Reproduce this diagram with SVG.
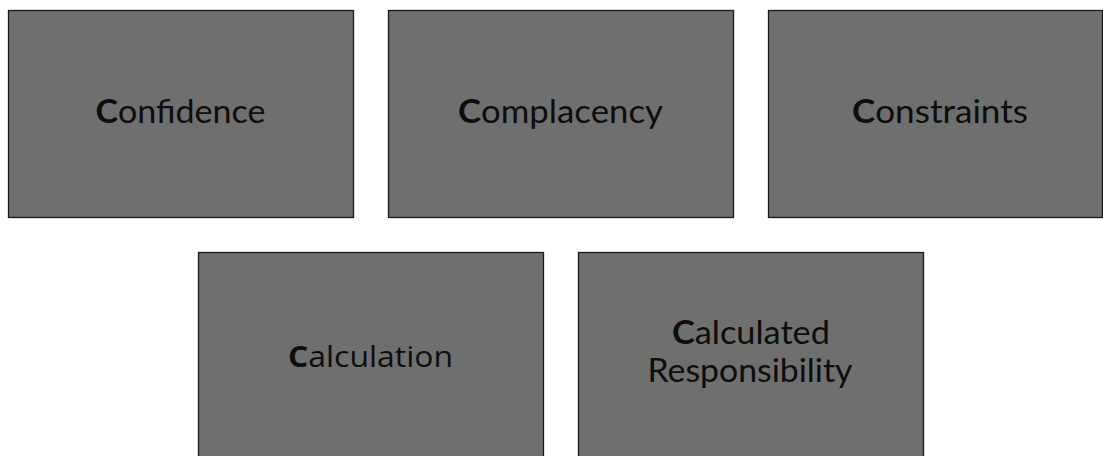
<svg xmlns="http://www.w3.org/2000/svg" width="1103" height="456" viewBox="0 0 1103 456">
  <style>
    .box { fill: #6f6f6f; stroke: #1a1a1a; stroke-width: 1.3; }
    .lbl { font-family: Lato, "Open Sans", sans-serif; font-size: 32px; fill: #0d0d0d; text-anchor: middle; }
    .cal { font-family: "Open Sans", "Noto Sans", sans-serif; font-size: 29px; fill: #0d0d0d; text-anchor: middle; }
    .init { font-weight: bold; }
  </style>
  <rect width="1103" height="456" fill="#ffffff"/>

  <g id="confidence">
    <rect class="box" x="8.5" y="10.5" width="345" height="207"/>
    <text class="lbl" x="180.5" y="123" textLength="170" lengthAdjust="spacingAndGlyphs"><tspan class="init">C</tspan>onfidence</text>
  </g>

  <g id="complacency">
    <rect class="box" x="388.5" y="10.5" width="345" height="207"/>
    <text class="lbl" x="560.5" y="123" textLength="205" lengthAdjust="spacingAndGlyphs"><tspan class="init">C</tspan>omplacency</text>
  </g>

  <g id="constraints">
    <rect class="box" x="768.5" y="10.5" width="334" height="207"/>
    <text class="lbl" x="940" y="123" textLength="176" lengthAdjust="spacingAndGlyphs"><tspan class="init">C</tspan>onstraints</text>
  </g>

  <g id="calculation">
    <rect class="box" x="198.5" y="252.5" width="345" height="215"/>
    <text class="cal" x="370.5" y="367" textLength="165" lengthAdjust="spacingAndGlyphs"><tspan class="init">C</tspan>alculation</text>
  </g>

  <g id="calculated-responsibility">
    <rect class="box" x="578.5" y="252.5" width="345" height="215"/>
    <text class="lbl" x="751" y="344" textLength="158" lengthAdjust="spacingAndGlyphs"><tspan class="init">C</tspan>alculated</text>
    <text class="lbl" x="750" y="382" textLength="205" lengthAdjust="spacingAndGlyphs">Responsibility</text>
  </g>

  <g id="connectors"></g>
</svg>
